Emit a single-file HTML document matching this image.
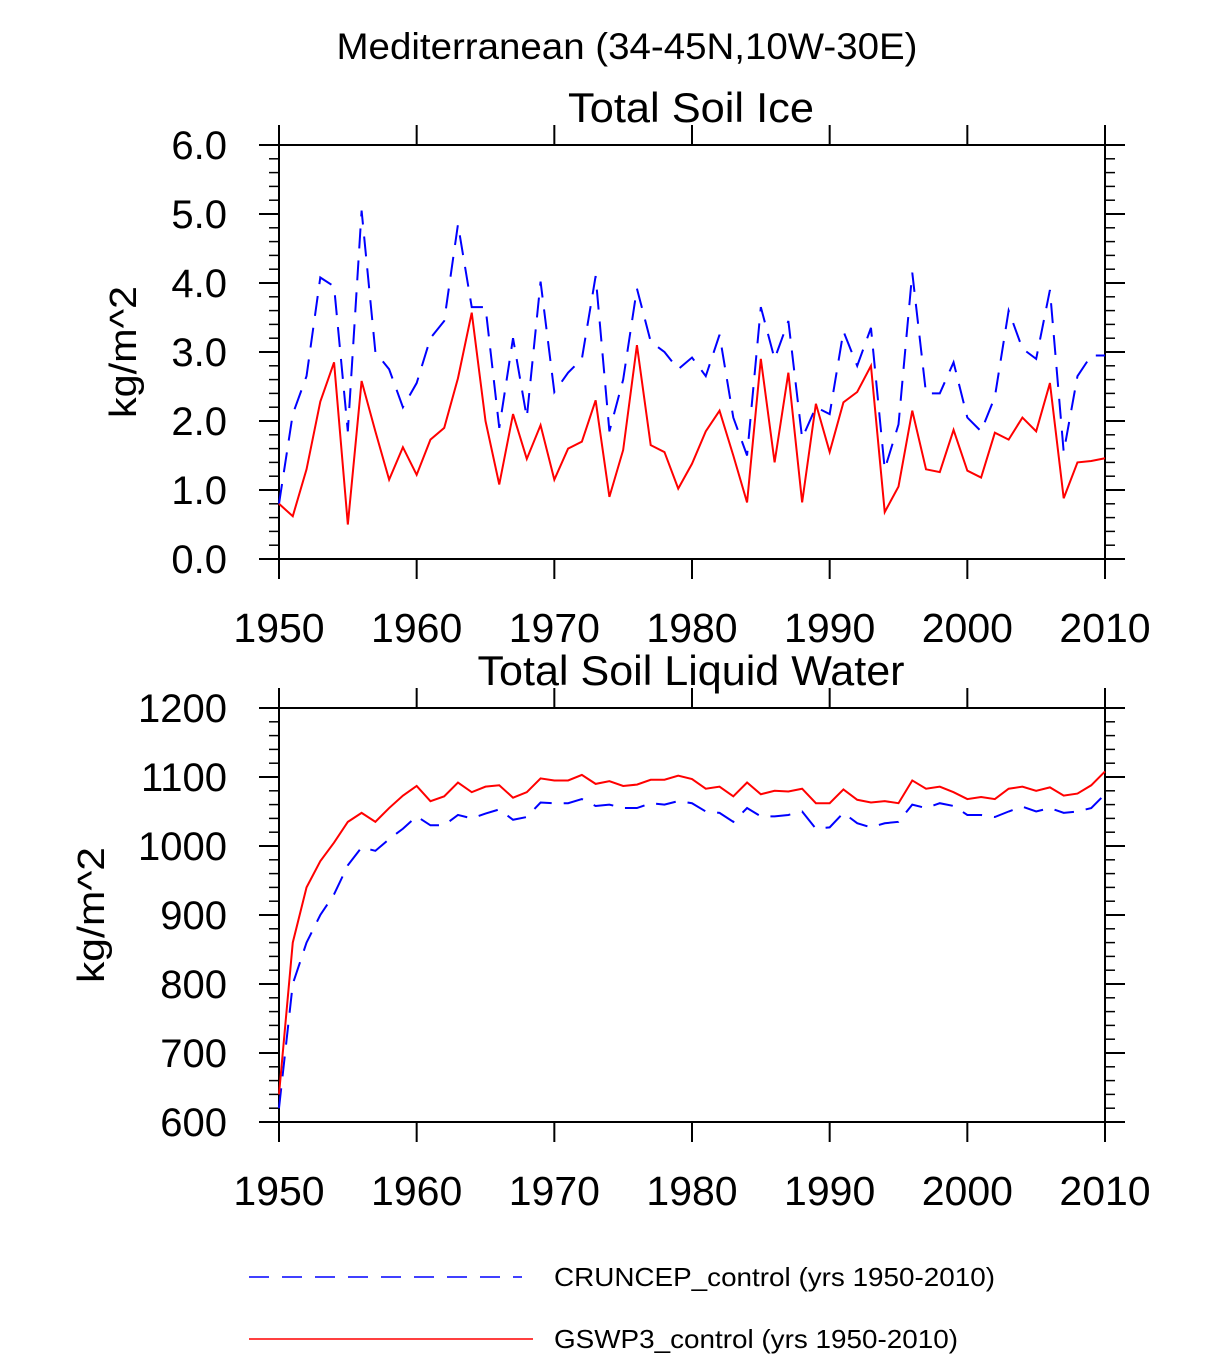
<!DOCTYPE html>
<html><head><meta charset="utf-8"><style>
body{margin:0;background:#fff}
svg text{font-family:"Liberation Sans",sans-serif;fill:#000}
</style></head><body>
<svg id="chart" width="1224" height="1355" xmlns="http://www.w3.org/2000/svg">
<text x="627" y="59" font-size="37" text-anchor="middle" textLength="581" lengthAdjust="spacingAndGlyphs">Mediterranean (34-45N,10W-30E)</text>
<g id="p1"></g>
<g id="p2"></g>
<g>
<line x1="249" y1="1277" x2="522" y2="1277" stroke="#0000ff" stroke-width="1.5" stroke-dasharray="20,13"/>
<text x="554" y="1286" font-size="26" textLength="441" lengthAdjust="spacingAndGlyphs">CRUNCEP_control (yrs 1950-2010)</text>
<line x1="249" y1="1339" x2="533" y2="1339" stroke="#ff0000" stroke-width="1.5"/>
<text x="554" y="1348" font-size="26" textLength="404" lengthAdjust="spacingAndGlyphs">GSWP3_control (yrs 1950-2010)</text>
</g>
</svg>
<script>
const years=[];for(let y=1950;y<=2010;y++)years.push(y);
const xTicks=[1950,1960,1970,1980,1990,2000,2010];
const iceTicks=[0,1,2,3,4,5,6];
const liqTicks=[600,700,800,900,1000,1100,1200];
const iceCru=[0.8,2.1,2.65,4.08,3.95,1.85,5.05,3.0,2.75,2.2,2.55,3.2,3.45,4.85,3.65,3.65,1.9,3.2,2.05,4.02,2.42,2.7,2.9,4.1,1.85,2.6,3.92,3.15,3.0,2.75,2.92,2.65,3.25,2.05,1.5,3.65,2.9,3.45,1.75,2.2,2.1,3.3,2.8,3.35,1.3,1.95,4.15,2.4,2.4,2.85,2.05,1.85,2.35,3.6,3.05,2.9,3.9,1.55,2.65,2.95,2.95];
const iceGsw=[0.8,0.62,1.3,2.28,2.85,0.5,2.58,1.85,1.15,1.62,1.22,1.73,1.9,2.62,3.57,2.0,1.08,2.1,1.45,1.94,1.15,1.6,1.7,2.3,0.9,1.58,3.1,1.65,1.55,1.02,1.38,1.85,2.15,1.5,0.82,2.9,1.4,2.7,0.82,2.25,1.55,2.27,2.42,2.8,0.68,1.05,2.15,1.3,1.26,1.87,1.28,1.18,1.83,1.73,2.05,1.85,2.55,0.88,1.4,1.42,1.46];
const liqCru=[620,800,860,900,930,972,998,993,1010,1025,1043,1030,1030,1045,1040,1047,1053,1038,1042,1063,1062,1062,1068,1058,1060,1055,1055,1062,1060,1065,1062,1050,1048,1035,1055,1043,1043,1045,1050,1025,1027,1048,1033,1027,1033,1035,1060,1055,1062,1058,1045,1045,1042,1050,1057,1050,1055,1048,1050,1055,1075];
const liqGsw=[640,860,940,978,1005,1035,1048,1035,1055,1073,1087,1065,1072,1092,1078,1086,1088,1070,1078,1098,1095,1095,1103,1090,1094,1087,1089,1096,1096,1102,1097,1083,1086,1072,1092,1075,1080,1079,1083,1062,1062,1082,1067,1063,1065,1062,1095,1083,1086,1078,1068,1071,1068,1083,1086,1080,1085,1073,1076,1088,1108];
const NS="http://www.w3.org/2000/svg";
function mk(p,t,a){const e=document.createElementNS(NS,t);for(const k in a)e.setAttribute(k,a[k]);p.appendChild(e);return e;}
function panel(g,top,title,titleW,ymin,ymax,yt,fmt,ylx,ylW,cru,gsw,minorStep){
 const L=279,R=1105,B=top+414;
 const X=v=>L+(v-1950)/60*(R-L);
 const Y=v=>B-(v-ymin)/(ymax-ymin)*(B-top);
 let t=mk(g,'text',{x:691,y:top-23,'font-size':42,'text-anchor':'middle',textLength:titleW,lengthAdjust:'spacingAndGlyphs'});t.textContent=title;
 
 
 let r=mk(g,'rect',{x:L,y:top,width:R-L,height:B-top,fill:'none',stroke:'#000','stroke-width':2});
 
 
 for(let v=ymin;v<=ymax+1e-9;v+=minorStep){const y=Y(v);mk(g,'line',{x1:L-10,y1:y,x2:L,y2:y,stroke:'#000','stroke-width':1.5});mk(g,'line',{x1:R,y1:y,x2:R+10,y2:y,stroke:'#000','stroke-width':1.5});}
 yt.forEach(v=>{const y=Y(v);mk(g,'line',{x1:L-20,y1:y,x2:L,y2:y,stroke:'#000','stroke-width':2});mk(g,'line',{x1:R,y1:y,x2:R+20,y2:y,stroke:'#000','stroke-width':2});
  const tx=mk(g,'text',{x:L-52,y:y+14,'font-size':40,'text-anchor':'end'});tx.textContent=fmt(v);
  
  });
 xTicks.forEach(v=>{const x=X(v);mk(g,'line',{x1:x,y1:B,x2:x,y2:B+20,stroke:'#000','stroke-width':2});mk(g,'line',{x1:x,y1:top-20,x2:x,y2:top,stroke:'#000','stroke-width':2});
  const tx=mk(g,'text',{x:x,y:B+83,'font-size':41,'text-anchor':'middle'});tx.textContent=v;
  
  });
 const yl=mk(g,'text',{x:0,y:0,'font-size':38,'text-anchor':'middle',textLength:ylW,lengthAdjust:'spacingAndGlyphs',transform:`translate(${ylx},${(top+B)/2}) rotate(-90)`});yl.textContent='kg/m^2';
 
 
 const pc=mk(g,'polyline',{points:years.map((y,i)=>X(y)+','+Y(cru[i])).join(' '),fill:'none',stroke:'#0000ff','stroke-width':2,'stroke-dasharray':'20,12'});
 
 
 const pg=mk(g,'polyline',{points:years.map((y,i)=>X(y)+','+Y(gsw[i])).join(' '),fill:'none',stroke:'#ff0000','stroke-width':2});
 
 
}
panel(document.getElementById('p1'),145,'Total Soil Ice',246,0,6,iceTicks,v=>v.toFixed(1),136,132,iceCru,iceGsw,0.2);
panel(document.getElementById('p2'),708,'Total Soil Liquid Water',427,600,1200,liqTicks,v=>String(v),104,136,liqCru,liqGsw,20);
</script>
</body></html>
